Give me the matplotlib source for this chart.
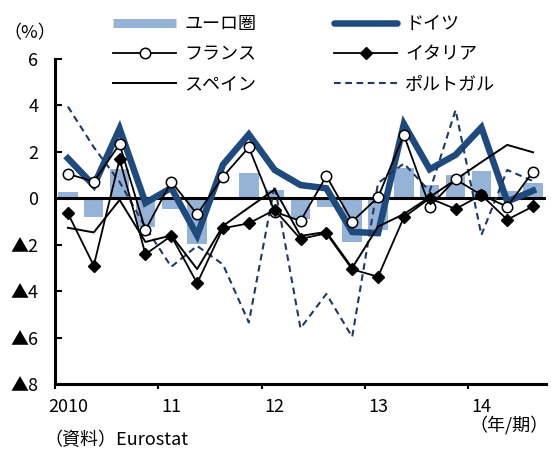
import matplotlib
matplotlib.use("Agg")
import matplotlib.pyplot as plt
from matplotlib.lines import Line2D
import numpy as np

plt.rcParams['font.family'] = ['Noto Sans CJK JP', 'DejaVu Sans']

quarters = list(range(19))  # 2010Q1 .. 2014Q3
year_labels = ["2010", "11", "12", "13", "14"]
y_ticks = [6, 4, 2, 0, -2, -4, -6, -8]
y_tick_labels = ["6", "4", "2", "0", "▲2", "▲4", "▲6", "▲8"]

euro = [0.29, -0.82, 1.25, -1.22, -0.47, -1.97, 0.05, 1.08, 0.36, -0.9,
        -0.38, -1.87, -1.35, 1.29, 0.57, 1.02, 1.18, 0.33, 0.66]
germany = [1.72, 0.55, 3.0, -0.2, 0.45, -1.6, 1.45, 2.75, 1.22, 0.57,
           0.43, -1.45, -1.5, 3.2, 1.25, 1.87, 3.05, -0.14, 0.33]
france = [1.05, 0.72, 2.33, -1.37, 0.72, -0.69, 0.93, 2.2, -0.58, -0.98,
          0.96, -1.0, 0.04, 2.73, -0.36, 0.82, 0.14, -0.36, 1.15]
italy = [-0.65, -2.9, 1.68, -2.41, -1.62, -3.66, -1.29, -1.08, -0.5, -1.75,
         -1.51, -3.06, -3.38, -0.82, 0.0, -0.46, 0.14, -0.92, -0.35]
spain = [-1.27, -1.47, -0.07, -1.88, -1.6, -3.05, -1.19, -0.4, 0.38, -1.62,
         -1.45, -3.0, -1.22, -0.68, 0.05, 0.8, 1.56, 2.3, 1.98]
portugal = [3.95, 2.2, 0.7, -1.25, -2.95, -2.05, -2.85, -5.35, 0.55, -5.6,
            -4.12, -5.97, 0.65, 1.5, 0.3, 3.8, -1.58, 1.22, 0.74]

C_EURO = '#95B3D7'
C_DE = '#1F4A7D'
C_PT = '#1F3864'

fig = plt.figure(figsize=(5.51, 4.5), dpi=100)
ax = fig.add_axes([55/551, 1-384/450, (546-55)/551, (384-59)/450])

x = np.array(quarters)
ax.bar(x, euro, width=0.75, color=C_EURO, zorder=1)
ax.axhline(0, color='black', lw=2.2, zorder=2)
ax.plot(x, germany, color=C_DE, lw=4.7, solid_joinstyle='miter', zorder=3)
ax.plot(x, portugal, color=C_PT, lw=1.5, linestyle=(0, (3.2, 2.2)), zorder=4)
ax.plot(x, spain, color='black', lw=1.4, zorder=5)
ax.plot(x, france, color='black', lw=1.3, marker='o', ms=7.5,
        mfc='white', mec='black', mew=1.1, zorder=6)
ax.plot(x, italy, color='black', lw=1.3, marker='D', ms=6.3,
        mfc='black', mec='black', zorder=7)

ax.set_xlim(-0.5, 18.5)
ax.set_ylim(-8, 6)

for s in ['top', 'right']:
    ax.spines[s].set_visible(False)
for s in ['left', 'bottom']:
    ax.spines[s].set_linewidth(2.2)

ax.set_yticks(y_ticks)
ax.set_yticklabels(y_tick_labels, fontsize=13)
ax.tick_params(axis='y', direction='in', length=5, width=1.5, pad=12)

ax.set_xticks([-0.5, 3.5, 7.5, 11.5, 15.5])
ax.set_xticklabels([])
ax.tick_params(axis='x', which='major', direction='out', length=3.5, width=1.5)
ax.set_xticks(x[::4], minor=True)
ax.set_xticklabels(year_labels, minor=True, fontsize=13)
ax.tick_params(axis='x', which='minor', length=0, pad=10)

fig.text(30/551, 1-33/450, '（%）', fontsize=13, ha='center', va='center')
fig.text(44/551, 1-440/450, '（資料）Eurostat', fontsize=13, ha='left', va='center')
fig.text(549/551, 1-425/450, '（年/期）', fontsize=13, ha='right', va='center')

handles = [
    Line2D([], [], color=C_EURO, lw=6.5, solid_capstyle='butt'),
    Line2D([], [], color='black', lw=1.3, marker='o', ms=7.5, mfc='white', mec='black', mew=1.1),
    Line2D([], [], color='black', lw=1.4),
    Line2D([], [], color=C_DE, lw=4.7, solid_capstyle='round'),
    Line2D([], [], color='black', lw=1.3, marker='D', ms=6.3, mfc='black'),
    Line2D([], [], color=C_PT, lw=1.5, linestyle=(0, (3.2, 2.2))),
]
labels = ['ユーロ圏', 'フランス', 'スペイン', 'ドイツ', 'イタリア', 'ポルトガル']
fig.legend(handles, labels, ncol=2, loc='upper left',
           bbox_to_anchor=(113/551, 1-15/450), frameon=False, fontsize=13,
           handlelength=3.5, handletextpad=0.45, columnspacing=4.3,
           labelspacing=0.68, borderpad=0, borderaxespad=0, numpoints=1)

fig.savefig('out.png', dpi=100)
